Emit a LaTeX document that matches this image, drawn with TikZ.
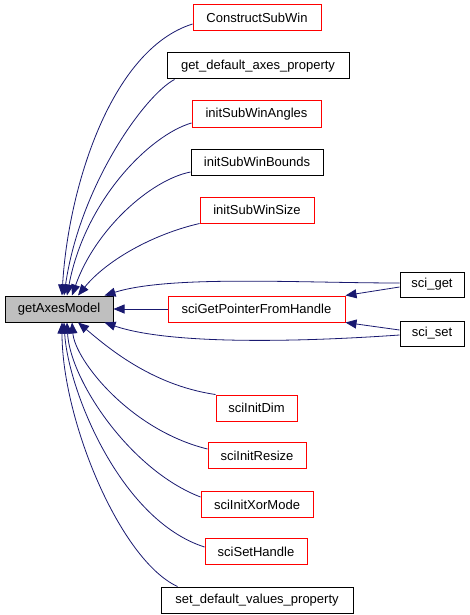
\documentclass[tikz,border=0pt]{standalone}
\usepackage{fontspec}
\setmainfont{Liberation Sans}
\usetikzlibrary{arrows.meta}
\definecolor{edgeblue}{RGB}{25,25,112}
\definecolor{boxgray}{RGB}{191,191,191}
\begin{document}
\begin{tikzpicture}[x=1pt,y=-1pt,
  every node/.style={font=\fontsize{13}{15}\selectfont, inner sep=0pt, minimum height=26pt, line width=1pt},
  redbox/.style={draw=red},
  blackbox/.style={draw=black},
  mainbox/.style={draw=black, fill=boxgray},
  edge/.style={draw=edgeblue, line width=0.8pt, -{Triangle[length=11pt,width=9pt]}}
]
\useasboundingbox (0,0) rectangle (469,615);
\fill[white] (0,0) rectangle (469,615);

\node[mainbox, minimum width=108pt] (gam) at (59,309) {getAxesModel};
\node[redbox, minimum width=128pt] (csw) at (257,18) {ConstructSubWin};
\node[blackbox, minimum width=182pt] (gdap) at (258,66) {get\_default\_axes\_property};
\node[redbox, minimum width=129pt] (iswa) at (256.5,114) {initSubWinAngles};
\node[blackbox, minimum width=132pt] (iswb) at (257,162) {initSubWinBounds};
\node[redbox, minimum width=114pt] (isws) at (257,210) {initSubWinSize};
\node[redbox, minimum width=177pt] (sgp) at (256.5,309) {sciGetPointerFromHandle};
\node[blackbox, minimum width=64pt, minimum height=25pt] (sget) at (432,284.5) {sci\_get};
\node[blackbox, minimum width=64pt, minimum height=25pt] (sset) at (432,333.5) {sci\_set};
\node[redbox, minimum width=81pt] (sid) at (256.5,408) {sciInitDim};
\node[redbox, minimum width=98pt] (sir) at (257,455.5) {sciInitResize};
\node[redbox, minimum width=112pt] (sixm) at (257,504.5) {sciInitXorMode};
\node[redbox, minimum width=102pt] (ssh) at (256,551.5) {sciSetHandle};
\node[blackbox, minimum width=192pt] (sdvp) at (257,600) {set\_default\_values\_property};

% upper callers
\draw[edge] ([yshift=-6pt]csw.west) .. controls (110,50) and (68,190) .. ([xshift=3pt]gam.north);
\draw[edge] ([xshift=8pt]gdap.south west) .. controls (145,95) and (80,185) .. ([xshift=5pt]gam.north);
\draw[edge] ([yshift=-9pt]iswa.west) .. controls (150,135) and (85,200) .. ([xshift=8pt]gam.north);
\draw[edge] ([yshift=-10pt]iswb.west) .. controls (150,180) and (95,230) .. ([xshift=13pt]gam.north);
\draw[edge] (isws.south west) .. controls (150,235) and (105,262) .. ([xshift=19pt]gam.north);

% lower callers
\draw[edge] (sid.north west) .. controls (150,385) and (105,345) .. ([xshift=19pt]gam.south);
\draw[edge] ([yshift=6.5pt]sir.west) .. controls (130,430) and (75,360) .. ([xshift=13pt]gam.south);
\draw[edge] ([yshift=7.5pt]sixm.west) .. controls (130,470) and (70,380) .. ([xshift=8pt]gam.south);
\draw[edge] ([yshift=4.5pt]ssh.west) .. controls (120,520) and (68,390) .. ([xshift=5pt]gam.south);
\draw[edge] ([xshift=17pt]sdvp.north west) .. controls (120,560) and (62,420) .. ([xshift=3pt]gam.south);

% right side
\draw[edge] ([yshift=1.5pt]sget.west) .. controls (300,283) and (170,275) .. ([xshift=-9pt]gam.north east);
\draw[edge] ([yshift=-1.5pt]sset.west) .. controls (300,342) and (170,345) .. ([xshift=-9pt]gam.south east);
\draw[edge] (sgp.west) -- (gam.east);
\draw[edge] ([yshift=-2.5pt]sget.west) -- (sgp.north east);
\draw[edge] ([yshift=3.5pt]sset.west) -- (sgp.south east);
\end{tikzpicture}
\end{document}
